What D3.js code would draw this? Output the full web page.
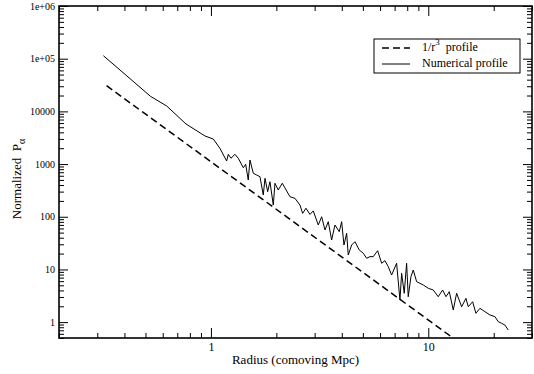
<!DOCTYPE html>
<html>
<head>
<meta charset="utf-8">
<script src="https://cdn.jsdelivr.net/npm/d3@7"></script>
<style>
  body { margin: 0; background: #fff; }
  svg text { fill: #000; }
</style>
</head>
<body>
<div id="chart"></div>
<script>
// numerical profile
const radius = [0.320, 0.411, 0.527, 0.626, 0.768, 0.939, 1.025, 1.100, 1.181, 1.202,
  1.236, 1.290, 1.336, 1.409, 1.445, 1.485, 1.512, 1.566, 1.623, 1.681,
  1.741, 1.773, 1.824, 1.869, 1.936, 1.971, 2.041, 2.129, 2.191, 2.310,
  2.435, 2.568, 2.642, 2.736, 2.855, 2.957, 3.118, 3.232, 3.347, 3.466,
  3.592, 3.720, 3.894, 3.994, 4.093, 4.211, 4.283, 4.440, 4.598, 4.813,
  5.022, 5.205, 5.391, 5.582, 5.848, 6.101, 6.318, 6.543, 6.782, 7.150,
  7.405, 7.540, 7.750, 7.949, 8.086, 8.321, 8.527, 8.840, 9.48, 10.0,
  10.54, 11.11, 11.64, 12.06, 12.49, 13.03, 13.50, 14.24, 14.90, 15.27,
  16.00, 16.56, 17.28, 18.22, 19.21, 20.26, 20.98, 21.75, 22.52, 23.33];
const profile = [114000, 46900, 19330, 12650, 5762, 3410, 2990, 1992, 1144, 1532,
  1287, 1532, 1287, 853, 990, 498, 1195, 668, 620, 576,
  259, 537, 299, 463, 167, 432, 322, 432, 352, 240,
  224, 167, 116, 145, 111, 129, 69.8, 100, 56.1, 80.6,
  36.2, 69.8, 52.1, 80.6, 29.1, 48.5, 18.8, 29.1, 33.6, 23.4,
  20.3, 16.3, 17.5, 17.5, 22.7, 13.1, 14.7, 11.3, 7.85, 13.1,
  2.63, 8.45, 3.53, 13.1, 3.04, 7.29, 9.76, 5.85, 5.07, 4.39,
  4.07, 3.04, 4.07, 3.04, 3.78, 1.70, 3.53, 1.96, 2.83, 1.96,
  2.44, 1.47, 1.83, 1.58, 1.37, 1.27, 1.02, 0.95, 0.88, 0.71];

// 1/r^3 reference line (end points)
const cubeRadius = [0.331, 13.0];
const cubeValues = [30700, 0.5];

const xMajor = [1, 10];
const xLabels = ["1", "10"];
const yMajor = [1, 10, 100, 1000, 10000, 1e5, 1e6];
const yLabels = ["1", "10", "100", "1000", "10000", "1e+05", "1e+06"];

const width = 534, height = 374;
const mLeft = 59, mRight = 532, mTop = 6, mBottom = 338;
const serif = "'Liberation Serif', 'Times New Roman', Times, 'Nimbus Roman', 'DejaVu Serif', 'Noto Serif', serif";

const svg = d3.select('#chart').append('svg')
  .attr('width', width)
  .attr('height', height)
  .style('font-family', serif);

const x = d3.scaleLog().domain([0.2, 30]).range([mLeft, mRight]);
const y = d3.scaleLog().domain([0.5, 1e6]).range([mBottom, mTop]);

const xMinor = x.ticks().filter(d => !xMajor.includes(d));
const yMinor = y.ticks().filter(d => !yMajor.includes(d));

function tickAxis(axisFn, scale, values, size, fmt) {
  return axisFn(scale).tickValues(values).tickSize(size).tickSizeOuter(0).tickPadding(4).tickFormat(fmt);
}

const g = svg.append('g');

// bottom
g.append('g').attr('transform', `translate(0,${mBottom})`)
  .call(tickAxis(d3.axisBottom, x, xMinor, -5, ''));
g.append('g').attr('class', 'lab').attr('transform', `translate(0,${mBottom})`)
  .call(tickAxis(d3.axisBottom, x, xMajor, -10, (d, i) => xLabels[i]).tickPadding(4));
// top
g.append('g').attr('transform', `translate(0,${mTop})`)
  .call(tickAxis(d3.axisTop, x, xMinor, -5, ''));
g.append('g').attr('transform', `translate(0,${mTop})`)
  .call(tickAxis(d3.axisTop, x, xMajor, -10, ''));
// left
g.append('g').attr('transform', `translate(${mLeft},0)`)
  .call(tickAxis(d3.axisLeft, y, yMinor, -5, ''));
g.append('g').attr('class', 'laby').attr('transform', `translate(${mLeft},0)`)
  .call(tickAxis(d3.axisLeft, y, yMajor, -9, (d, i) => yLabels[i]));
// right
g.append('g').attr('transform', `translate(${mRight},0)`)
  .call(tickAxis(d3.axisRight, y, yMinor, -5, ''));
g.append('g').attr('transform', `translate(${mRight},0)`)
  .call(tickAxis(d3.axisRight, y, yMajor, -9, ''));

g.selectAll('.domain').remove();
g.selectAll('g').attr('font-family', null);
g.selectAll('.tick line').attr('stroke', '#000').attr('stroke-width', 1);
g.selectAll('.lab text').attr('font-size', 12);
g.selectAll('.laby text').attr('font-size', 10);

// frame
svg.append('rect')
  .attr('x', mLeft).attr('y', mTop)
  .attr('width', mRight - mLeft).attr('height', mBottom - mTop)
  .attr('fill', 'none').attr('stroke', '#000').attr('stroke-width', 1.6);

const line = d3.line().x(d => x(d[0])).y(d => y(d[1]));

svg.append('defs').append('clipPath').attr('id', 'clip')
  .append('rect').attr('x', mLeft).attr('y', mTop)
  .attr('width', mRight - mLeft).attr('height', mBottom - mTop);

const plot = svg.append('g').attr('clip-path', 'url(#clip)');

plot.append('path')
  .datum(d3.zip(cubeRadius, cubeValues))
  .attr('d', line)
  .attr('fill', 'none').attr('stroke', '#000')
  .attr('stroke-width', 1.5).attr('stroke-dasharray', '7,4');

plot.append('path')
  .datum(d3.zip(radius, profile))
  .attr('d', line)
  .attr('fill', 'none').attr('stroke', '#000')
  .attr('stroke-width', 1).attr('stroke-linejoin', 'miter');

// axis titles
svg.append('text')
  .attr('x', (mLeft + mRight) / 2).attr('y', 364)
  .attr('text-anchor', 'middle').attr('font-size', 13)
  .text('Radius (comoving Mpc)');

const yt = svg.append('text')
  .attr('transform', 'translate(21,179) rotate(-90)')
  .attr('text-anchor', 'middle').attr('font-size', 13);
yt.append('tspan').attr('xml:space', 'preserve').text('Normalized  P');
yt.append('tspan').attr('dy', 4).attr('font-size', 10).text('α');

// legend
const lg = svg.append('g');
lg.append('rect')
  .attr('x', 374).attr('y', 39).attr('width', 146).attr('height', 34)
  .attr('fill', '#fff').attr('stroke', '#000').attr('stroke-width', 1);
lg.append('line')
  .attr('x1', 382).attr('x2', 410).attr('y1', 48).attr('y2', 48)
  .attr('stroke', '#000').attr('stroke-width', 1.5).attr('stroke-dasharray', '7,4');
lg.append('line')
  .attr('x1', 382).attr('x2', 410).attr('y1', 64).attr('y2', 64)
  .attr('stroke', '#000').attr('stroke-width', 1);
const t1 = lg.append('text').attr('x', 422).attr('y', 51).attr('font-size', 12);
t1.append('tspan').text('1/r');
t1.append('tspan').attr('dy', -6).attr('font-size', 9).text('3');
t1.append('tspan').attr('dy', 6).attr('xml:space', 'preserve').text('  profile');
lg.append('text').attr('x', 422).attr('y', 67).attr('font-size', 12)
  .text('Numerical profile');
</script>
</body>
</html>
